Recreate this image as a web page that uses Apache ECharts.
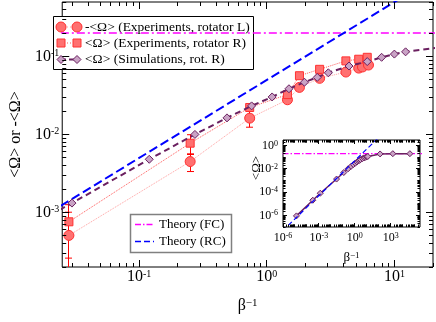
<!DOCTYPE html>
<html>
<head>
<meta charset="utf-8">
<script src="https://cdn.jsdelivr.net/npm/echarts@6/dist/echarts.min.js"></script>
<style>
  html, body { margin: 0; padding: 0; background: #fff; }
  #chart { width: 436px; height: 322px; }
</style>
</head>
<body>
<div id="chart"></div>
<script>
// Simulations, rotator R (the inset shows the whole run, the main plot a part of it)
const simX = [1.33e-5, 3.1e-4, 1.3e-3, 0.0298, 0.120, 0.2735, 0.4875, 0.760, 1.10, 1.49, 1.97, 2.48, 3.03, 4.40, 6.11, 7.92, 9.97, 12.2, 130, 1500, 40000];
const simY = [9e-7, 2e-5, 8e-5, 1.32e-3, 4.81e-3, 0.01002, 0.01633, 0.02328, 0.0303, 0.0386, 0.0468, 0.054, 0.0618, 0.0755, 0.0861, 0.0977, 0.1074, 0.1148, 0.19, 0.2, 0.2];

// Experiments, rotator L (plotted as -<Omega>)
const expLX = [0.0282, 0.251, 0.734, 1.45, 1.80, 2.59, 4.16, 5.24, 5.61, 6.25];
const expLY = [5.08e-4, 4.50e-3, 0.0162, 0.0279, 0.0402, 0.0525, 0.0632, 0.0710, 0.0734, 0.0777];
const expLErr = [5e-4, 1.15e-3, 3.8e-3, 0, 0, 0, 0, 0, 0, 0];

// Experiments, rotator R
const expRX = [0.0282, 0.251, 0.734, 1.45, 1.80, 2.59, 4.16, 5.24, 6.11];
const expRY = [7.6e-4, 7.74e-3, 0.0222, 0.0325, 0.0567, 0.0685, 0.0879, 0.0923, 0.0977];
const expRErr = [5e-4, 2.2e-3, 0, 0, 0, 0, 0, 0, 0];

// Theory lines (end points, clipped by the axes)
const fcX = [1e-7, 1e6];
const fcY = [0.2, 0.2];
const rcX = [1e-7, 100];
const rcY = [5e-9, 5];

// Axis ranges and labelled decades
const mainXRange = [0.025, 20];
const mainYRange = [2e-4, 0.5];
const mainXMajor = [0.1, 1, 10];
const mainYMajor = [0.001, 0.01, 0.1];
const insetXRange = [1e-6, 2.8e5];
const insetYRange = [1e-7, 3];
const insetXMajor = [1e-6, 1e-3, 1, 1e3];
const insetYMajor = [1e-6, 1e-4, 1e-2, 1];

const lg = Math.log10;
const FONT = '"Liberation Serif", "DejaVu Serif", serif';
const SIM_DARK = '#6b2060';
const SIM_FILL = '#c9a3c5';
const EXP_FILL = '#ff7070';
const EXP_EDGE = '#ff3030';

// rich text for 10^n labels
function richSup(big, small, raise) {
    return {
        b: { fontSize: big, lineHeight: big, verticalAlign: 'bottom', fontFamily: FONT, color: '#000' },
        s: { fontSize: small, lineHeight: small, verticalAlign: 'top', padding: [0, 0, raise, 0], fontFamily: FONT, color: '#000' }
    };
}

function supLabel(v) {
    const e = Math.round(v);
    return '{b|10}{s|' + (e < 0 ? '-' + (-e) : e) + '}';
}

// log positions of the minor ticks (1..9 x 10^n that are not labelled)
function minorList(range, major) {
    const out = [];
    const lo = Math.floor(lg(range[0]));
    const hi = Math.ceil(lg(range[1]));
    for (let n = lo; n <= hi; n++) {
        for (let k = 1; k <= 9; k++) {
            const v = k * Math.pow(10, n);
            if (v < range[0] * 0.9999 || v > range[1] * 1.0001) continue;
            if (major.some(m => Math.abs(lg(m) - lg(v)) < 1e-6)) continue;
            out.push(lg(v));
        }
    }
    return out;
}

function makeAxis(gridIndex, range, major, margin, rich) {
    return {
        type: 'value',
        gridIndex: gridIndex,
        min: lg(range[0]),
        max: lg(range[1]),
        axisLine: { show: false, onZero: false },
        axisTick: { show: false },
        axisLabel: { show: true, customValues: major.map(lg), formatter: supLabel, margin: margin, rich: rich },
        splitLine: { show: false }
    };
}

const xAxes = [
    makeAxis(0, mainXRange, mainXMajor, 2, richSup(16, 10, 9)),
    makeAxis(1, insetXRange, insetXMajor, 5, richSup(12, 8, 6))
];
const yAxes = [
    makeAxis(0, mainYRange, mainYMajor, 3, richSup(16, 10, 9)),
    makeAxis(1, insetYRange, insetYMajor, 5, richSup(12, 8, 6))
];

// axis titles
Object.assign(xAxes[0], {
    name: '{b|β}{s|−1}', nameLocation: 'middle', nameGap: 31,
    nameTextStyle: { fontFamily: FONT, rich: richSup(16, 11, 8) }
});
Object.assign(yAxes[0], {
    name: '<Ω> or -<Ω>', nameLocation: 'middle', nameGap: 28, nameRotate: 90,
    nameTextStyle: { fontFamily: FONT, fontSize: 16, color: '#000' }
});
Object.assign(xAxes[1], {
    name: '{b|β}{s|−1}', nameLocation: 'middle', nameGap: 24,
    nameTextStyle: { fontFamily: FONT, rich: richSup(13, 9, 7) }
});

function toPairs(xs, ys) {
    return xs.map((x, i) => [lg(x), lg(ys[i])]);
}

// inward ticks on all four sides of a grid, placed through the axes
function tickSeries(axisIdx, xRange, xMajor, yRange, yMajor, majorLen, minorLen) {
    const data = [];
    xMajor.forEach(v => data.push([lg(v), 0, majorLen]));
    minorList(xRange, xMajor).forEach(v => data.push([v, 0, minorLen]));
    yMajor.forEach(v => data.push([lg(v), 1, majorLen]));
    minorList(yRange, yMajor).forEach(v => data.push([v, 1, minorLen]));
    const x0 = lg(xRange[0]);
    const y0 = lg(yRange[0]);
    return {
        type: 'custom',
        xAxisIndex: axisIdx, yAxisIndex: axisIdx,
        clip: false, silent: true, z: 6,
        data: data,
        renderItem: (params, api) => {
            const cs = params.coordSys;
            const v = api.value(0);
            const len = api.value(2);
            const style = { stroke: '#000', lineWidth: 1 };
            const lines = [];
            if (api.value(1) === 0) {
                const x = Math.round(api.coord([v, y0])[0] - 0.5) + 0.5;
                const bot = cs.y + cs.height;
                lines.push({ type: 'line', shape: { x1: x, y1: bot, x2: x, y2: bot - len }, style: style });
                lines.push({ type: 'line', shape: { x1: x, y1: cs.y, x2: x, y2: cs.y + len }, style: style });
            } else {
                const y = Math.round(api.coord([x0, v])[1] - 0.5) + 0.5;
                const right = cs.x + cs.width;
                lines.push({ type: 'line', shape: { x1: cs.x, y1: y, x2: cs.x + len, y2: y }, style: style });
                lines.push({ type: 'line', shape: { x1: right, y1: y, x2: right - len, y2: y }, style: style });
            }
            return { type: 'group', children: lines };
        }
    };
}

function errorSeries(xs, ys, errs, axisIdx) {
    const data = [];
    xs.forEach((x, i) => {
        if (!errs[i]) return;
        const lo = ys[i] - errs[i];
        data.push([lg(x), lo > 0 ? lg(lo) : -10, lg(ys[i] + errs[i])]);
    });
    return {
        type: 'custom',
        xAxisIndex: axisIdx, yAxisIndex: axisIdx,
        clip: true, z: 1, silent: true,
        encode: { x: 0, y: [1, 2] },
        data: data,
        renderItem: (params, api) => {
            const lo = api.coord([api.value(0), api.value(1)]);
            const hi = api.coord([api.value(0), api.value(2)]);
            const x = Math.round(lo[0] - 0.5) + 0.5;
            const w = 3.5;
            const style = { stroke: '#ff0000', lineWidth: 1 };
            return {
                type: 'group',
                children: [
                    { type: 'line', shape: { x1: x, y1: lo[1], x2: x, y2: hi[1] }, style: style },
                    { type: 'line', shape: { x1: x - w, y1: lo[1], x2: x + w, y2: lo[1] }, style: style },
                    { type: 'line', shape: { x1: x - w, y1: hi[1], x2: x + w, y2: hi[1] }, style: style }
                ]
            };
        }
    };
}

function lineSeries(axisIdx, data, lineStyle, extra) {
    return Object.assign({
        type: 'line',
        xAxisIndex: axisIdx, yAxisIndex: axisIdx,
        data: data,
        showSymbol: false,
        silent: true,
        clip: true,
        lineStyle: lineStyle
    }, extra || {});
}

const series = [
    // main plot
    lineSeries(0, toPairs(fcX, fcY), { color: '#ff00ff', width: 1.5, type: [8, 3, 2, 3] }),
    lineSeries(0, toPairs(rcX, rcY), { color: '#0000ff', width: 2, type: [9, 4] }),
    errorSeries(expLX, expLY, expLErr, 0),
    errorSeries(expRX, expRY, expRErr, 0),
    lineSeries(0, toPairs(expLX, expLY), { color: '#ffa0a0', width: 1, type: 'dotted' }, {
        showSymbol: true, symbol: 'circle', symbolSize: 10, z: 3,
        itemStyle: { color: EXP_FILL, borderColor: EXP_EDGE, borderWidth: 1 }
    }),
    lineSeries(0, toPairs(expRX, expRY), { color: '#ff5a5a', width: 1, type: 'dotted' }, {
        showSymbol: true, symbol: 'rect', symbolSize: 8, z: 3,
        itemStyle: { color: EXP_FILL, borderColor: EXP_EDGE, borderWidth: 1 }
    }),
    lineSeries(0, toPairs(simX, simY), { color: SIM_DARK, width: 2, type: [6, 4] }, {
        showSymbol: true, symbol: 'diamond', symbolSize: 8, z: 4,
        itemStyle: { color: SIM_FILL, borderColor: SIM_DARK, borderWidth: 1 }
    }),
    tickSeries(0, mainXRange, mainXMajor, mainYRange, mainYMajor, 7, 4),
    // inset
    lineSeries(1, toPairs(fcX, fcY), { color: '#ff00ff', width: 1.2, type: [6, 2, 1.5, 2] }),
    lineSeries(1, toPairs(simX, simY), { color: SIM_DARK, width: 1.5 }, {
        showSymbol: true, symbol: 'diamond', symbolSize: 6, z: 3,
        itemStyle: { color: SIM_FILL, borderColor: SIM_DARK, borderWidth: 1 }
    }),
    lineSeries(1, toPairs(rcX, rcY), { color: '#0000ff', width: 1.2, type: [5, 3] }, { z: 4 }),
    tickSeries(1, insetXRange, insetXMajor, insetYRange, insetYMajor, 4, 2.5)
];

// legend drawing helpers
function marker(kind, cx, cy, size, fill, stroke) {
    const h = size / 2;
    const style = { fill: fill, stroke: stroke, lineWidth: 1 };
    if (kind === 'circle') return { type: 'circle', shape: { cx: cx, cy: cy, r: h }, style: style };
    if (kind === 'rect') return { type: 'rect', shape: { x: cx - h, y: cy - h, width: size, height: size }, style: style };
    return { type: 'polygon', shape: { points: [[cx, cy - h], [cx + h, cy], [cx, cy + h], [cx - h, cy]] }, style: style };
}

function legendRow(x1, x2, y, lineStyle, text, textX, fontSize, sym) {
    const items = [{ type: 'line', shape: { x1: x1, y1: y, x2: x2, y2: y }, style: lineStyle }];
    if (sym) {
        items.push(marker(sym.kind, x1, y, sym.size, sym.fill, sym.stroke));
        items.push(marker(sym.kind, x2, y, sym.size, sym.fill, sym.stroke));
    }
    items.push({
        type: 'text',
        style: { text: text, x: textX, y: y, fill: '#000', font: fontSize + 'px ' + FONT, verticalAlign: 'middle' }
    });
    return items;
}

const legendMain = [{ type: 'rect', shape: { x: 53.5, y: 16.5, width: 200, height: 53 }, style: { fill: '#fff', stroke: '#000', lineWidth: 1 } }]
    .concat(legendRow(61, 77, 27, { stroke: '#ffa0a0', lineWidth: 1, lineDash: [1, 2] }, '-<Ω> (Experiments, rotator L)', 85, 13.5,
        { kind: 'circle', size: 10, fill: EXP_FILL, stroke: EXP_EDGE }))
    .concat(legendRow(61, 77, 43, { stroke: '#ff5a5a', lineWidth: 1, lineDash: [1, 2] }, '<Ω> (Experiments, rotator R)', 85, 13.5,
        { kind: 'rect', size: 8, fill: EXP_FILL, stroke: EXP_EDGE }))
    .concat(legendRow(61, 77, 59.5, { stroke: SIM_DARK, lineWidth: 2, lineDash: [5, 3] }, '<Ω> (Simulations, rot. R)', 85, 13.5,
        { kind: 'diamond', size: 8, fill: SIM_FILL, stroke: SIM_DARK }));

const legendTheory = [{ type: 'rect', shape: { x: 130.5, y: 214.5, width: 101, height: 38 }, style: { fill: '#fff', stroke: '#808080', lineWidth: 1.5 } }]
    .concat(legendRow(135, 154, 224.5, { stroke: '#ff00ff', lineWidth: 1.5, lineDash: [6, 2, 1.5, 2] }, 'Theory (FC)', 159, 13))
    .concat(legendRow(135, 154, 241.5, { stroke: '#0000ff', lineWidth: 1.5, lineDash: [6, 3] }, 'Theory (RC)', 159, 13));

const chart = echarts.init(document.getElementById('chart'), null, { renderer: 'canvas' });
chart.setOption({
    animation: false,
    backgroundColor: '#fff',
    textStyle: { fontFamily: FONT, color: '#000' },
    grid: [
        { left: 46, right: 3, top: 2, bottom: 48, show: true, backgroundColor: 'transparent', borderColor: '#000', borderWidth: 1 },
        { left: 283, top: 140, width: 137, height: 87, show: true, backgroundColor: '#fff', borderColor: '#000', borderWidth: 1 }
    ],
    xAxis: xAxes,
    yAxis: yAxes,
    series: series,
    graphic: [
        { type: 'group', z: 100, children: legendMain },
        { type: 'group', z: 100, children: legendTheory },
        {
            type: 'text', z: 100, x: 257, y: 168, rotation: Math.PI / 2,
            style: { text: '<Ω>', fill: '#000', font: '13px ' + FONT, align: 'center', verticalAlign: 'middle' }
        }
    ]
});
</script>
</body>
</html>
